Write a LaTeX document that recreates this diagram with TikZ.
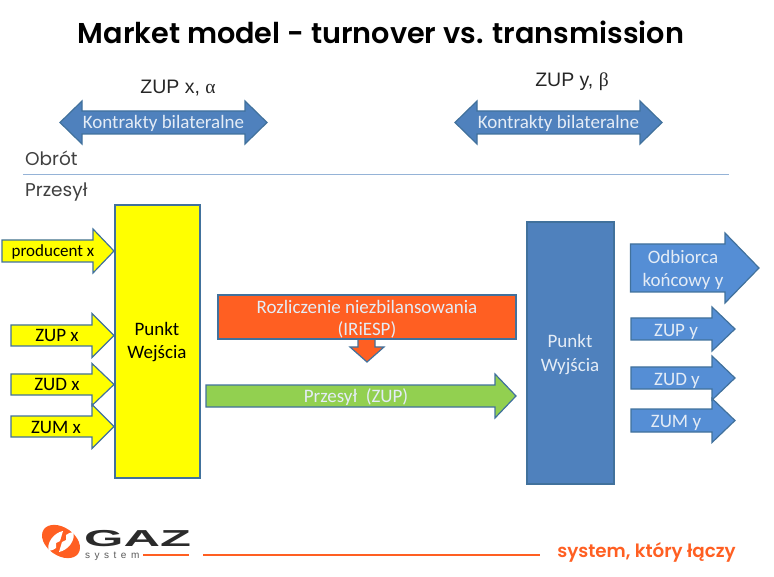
\documentclass[tikz,border=0pt]{standalone}
\usepackage{fontspec}
\setmainfont{Carlito}
\newfontfamily\titlefont{Poppins}[BoldFont={Poppins SemiBold}]
\newfontfamily\arialfont{Liberation Sans}
\newfontfamily\greekfont{Liberation Serif}
\usetikzlibrary{calc}
\definecolor{edgeblue}{HTML}{41719C}
\definecolor{fillyellow}{HTML}{FFFF00}
\definecolor{fillblue}{HTML}{4F81BD}
\definecolor{rightblue}{HTML}{558ED5}
\definecolor{fillorange}{HTML}{FF5F22}
\definecolor{fillgreen}{HTML}{92D050}
\definecolor{paleblue}{HTML}{E4ECF6}
\definecolor{logodark}{HTML}{2B2B2B}
\tikzset{
  yellowpart/.style={draw=edgeblue, line width=1.2pt, fill=fillyellow},
  bluepart/.style={draw=edgeblue, line width=1.2pt, fill=fillblue},
  rightpart/.style={draw=edgeblue, line width=1.2pt, fill=rightblue},
  orangepart/.style={draw=edgeblue, line width=1.2pt, fill=fillorange},
  greenpart/.style={draw=edgeblue, line width=1.2pt, fill=fillgreen},
  darklabel/.style={inner sep=0pt, anchor=base, text=black, font=\fontsize{19}{23}\selectfont},
  palelabel/.style={inner sep=0pt, anchor=base, text=paleblue, font=\fontsize{19}{23}\selectfont},
  sidelabel/.style={inner sep=0pt, anchor=base west, text=black!75, font=\titlefont\fontsize{18.5}{22}\selectfont},
  toplabel/.style={inner sep=0pt, anchor=base, text=black!85, font=\arialfont\fontsize{19.5}{23}\selectfont}
}
\newcommand{\rightarrowshape}[7]{%
  \draw[#1] (#2,#5-#6) -- (#3,#5-#6) -- (#3,#5-#7) -- (#4,#5) -- (#3,#5+#7) -- (#3,#5+#6) -- (#2,#5+#6) -- cycle;
}
\newcommand{\doublearrowshape}[4]{%
  \draw[bluepart] (#1,#4) -- (#2,101) -- (#2,111) -- (#3,111) -- (#3,101) -- ($(#3,#4)+(22,0)$) -- (#3,144) -- (#3,134) -- (#2,134) -- (#2,144) -- cycle;
}
\begin{document}
\begin{tikzpicture}[x=1pt, y=-1pt]
  \useasboundingbox (0,0) rectangle (774,577);

  \node[inner sep=0pt, anchor=base] (Title) at (381,44) {\titlefont\bfseries\fontsize{28.7}{34}\selectfont Market model - turnover vs. transmission};

  \node[toplabel] (ZupAlpha) at (178,94) {ZUP x, {\greekfont α}};
  \node[toplabel] (ZupBeta) at (572,87) {ZUP y, {\greekfont β}};
  \doublearrowshape{60}{82}{245}{122.5}
  \doublearrowshape{455}{477}{640}{122.5}
  \node[palelabel] (ContractX) at (163.5,129) {Kontrakty bilateralne};
  \node[palelabel] (ContractY) at (558.5,129) {Kontrakty bilateralne};

  \node[sidelabel] (Turnover) at (25,166) {Obrót};
  \node[sidelabel] (Transmission) at (25,197) {Przesył};
  \coordinate (LineStart) at (23,174);
  \coordinate (LineEnd) at (729,174);
  \draw[color=fillblue!60, line width=0.9pt] (LineStart) -- (LineEnd);

  \rightarrowshape{yellowpart}{2}{93}{114}{251}{11}{22}
  \rightarrowshape{yellowpart}{11}{92}{114}{335.5}{10.5}{22}
  \rightarrowshape{yellowpart}{11}{92}{114}{384.5}{10.5}{21}
  \rightarrowshape{yellowpart}{11}{92}{114}{426.5}{10.5}{22}
  \draw[yellowpart] (115,205) rectangle (200,478);
  \node[darklabel, font=\fontsize{17}{20}\selectfont] (Producer) at (53,257) {producent x};
  \node[darklabel] (ZupX) at (57,342) {ZUP x};
  \node[darklabel] (ZudX) at (57,390) {ZUD x};
  \node[darklabel] (ZumX) at (56,433) {ZUM x};
  \node[darklabel] (EntryTop) at (157,336) {Punkt};
  \node[darklabel] (EntryBottom) at (157,359) {Wejścia};

  \draw[orangepart] (358,339) -- (358,347) -- (350,347) -- (367,362) -- (384,347) -- (375,347) -- (375,339);
  \draw[orangepart] (218,295) rectangle (516,339);
  \node[palelabel] (BalanceTop) at (367,313.5) {Rozliczenie niezbilansowania};
  \node[palelabel] (BalanceBottom) at (367,336) {(IRiESP)};

  \rightarrowshape{greenpart}{206}{495}{516}{396}{11}{22}
  \node[palelabel] (Transfer) at (356,402) {Przesył~~(ZUP)};

  \draw[bluepart] (527,222) rectangle (614,484);
  \node[palelabel] (ExitTop) at (570,348) {Punkt};
  \node[palelabel] (ExitBottom) at (570,372) {Wyjścia};

  \rightarrowshape{rightpart}{630.5}{725}{759}{268}{24}{35}
  \rightarrowshape{rightpart}{631}{712}{735}{329}{11}{22}
  \rightarrowshape{rightpart}{631}{712}{735}{378}{11}{22}
  \rightarrowshape{rightpart}{631}{712}{735}{420.5}{11.5}{22}
  \node[palelabel] (CustomerTop) at (683,264) {Odbiorca};
  \node[palelabel] (CustomerBottom) at (683,287) {końcowy y};
  \node[palelabel] (ZupY) at (676,336.5) {ZUP y};
  \node[palelabel] (ZudY) at (677,385.5) {ZUD y};
  \node[palelabel] (ZumY) at (676,427) {ZUM y};

  \fill[fillorange, rotate around={-35:(61,541.5)}] (61,541.5) ellipse (21 and 14);
  \fill[white] (63,531) .. controls (53,533) and (46,544) .. (49,551) .. controls (52,551) and (54,549) .. (56,548) -- (56,543) -- (60,541) -- cycle;
  \fill[white] (59,552) .. controls (69,550) and (76,539) .. (73,532) .. controls (70,532) and (68,534) .. (66,535) -- (66,540) -- (62,542) -- cycle;
  \node[inner sep=0pt, anchor=base west, text=logodark] (LogoName) at (84,546) {\arialfont\bfseries\scalebox{2.3}[1.05]{\fontsize{22}{22}\selectfont GAZ}};
  \node[inner sep=0pt, anchor=base west, text=black!65] (LogoSystem) at (85,558) {\arialfont\addfontfeature{LetterSpace=45}\fontsize{10}{11}\selectfont system};
  \coordinate (LogoLineStart) at (143,555);
  \coordinate (LogoLineEnd) at (189,555);
  \coordinate (FootLineStart) at (203,555);
  \coordinate (FootLineEnd) at (540,555);
  \draw[fillorange, line width=1.6pt] (LogoLineStart) -- (LogoLineEnd);
  \draw[fillorange, line width=1.6pt] (FootLineStart) -- (FootLineEnd);
  \node[inner sep=0pt, anchor=base east, text=fillorange] (Slogan) at (736,557) {\titlefont\bfseries\fontsize{18.3}{20}\selectfont system, który łączy};
\end{tikzpicture}
\end{document}
